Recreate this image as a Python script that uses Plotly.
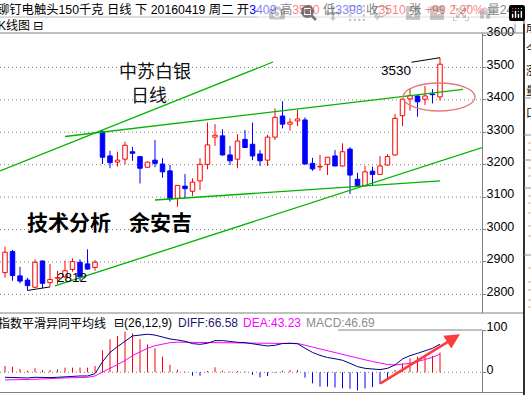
import plotly.graph_objects as go

# ---------------- data ----------------
opens = [2867, 2932, 2857, 2844, 2822, 2903, 2836, 2850, 2854, 2877, 2899, 2894, 2883,
         3302, 3227, 3208, 3217, 3240, 3225, 3192, 3214, 3202, 3181, 3096, 3134, 3118,
         3150, 3201, 3285, 3289, 3230, 3217, 3278, 3263, 3233, 3214, 3285, 3350, 3325,
         3335, 3338, 3204, 3193, 3201, 3227, 3196, 3248, 3155, 3135, 3180, 3170, 3199,
         3230, 3351, 3403, 3412, 3402, 3418, 3409]
highs = [2947, 2937, 2885, 2851, 2908, 2905, 2894, 2873, 2904, 2911, 2908, 2939, 2906,
         3307, 3243, 3240, 3271, 3255, 3227, 3210, 3276, 3220, 3199, 3136, 3171, 3158,
         3220, 3330, 3325, 3309, 3258, 3294, 3307, 3330, 3245, 3292, 3374, 3396, 3343,
         3369, 3346, 3221, 3230, 3224, 3245, 3266, 3254, 3175, 3196, 3194, 3227, 3232,
         3356, 3404, 3436, 3413, 3443, 3433, 3530]
lows = [2851, 2842, 2834, 2812, 2819, 2819, 2824, 2832, 2850, 2870, 2842, 2876, 2873,
        3202, 3189, 3194, 3201, 3212, 3142, 3190, 3192, 3160, 3086, 3070, 3096, 3104,
        3122, 3186, 3258, 3228, 3199, 3189, 3251, 3214, 3196, 3196, 3276, 3312, 3305,
        3319, 3202, 3181, 3181, 3168, 3195, 3194, 3110, 3132, 3134, 3137, 3169, 3197,
        3228, 3319, 3367, 3348, 3384, 3389, 3398]
closes = [2930, 2858, 2841, 2827, 2899, 2834, 2846, 2852, 2873, 2901, 2854, 2878, 2899,
          3223, 3206, 3214, 3260, 3235, 3189, 3208, 3204, 3178, 3094, 3136, 3126, 3146,
          3201, 3261, 3291, 3230, 3212, 3273, 3253, 3227, 3212, 3285, 3346, 3325, 3331,
          3341, 3202, 3187, 3195, 3223, 3196, 3240, 3168, 3135, 3178, 3170, 3196, 3225,
          3343, 3402, 3413, 3394, 3412, 3416, 3510]

diff_vals = [-11.8, -12.6, -13.4, -13.4, -11.8, -12.6, -12.6, -11.8, -10.2, -9.5, -8.7, -8.7,
             -3.2, 25, 47, 60.7, 74, 86, 88, 90, 88, 83.5, 78.8, 76.4, 73.3, 67.8, 66.2,
             68.6, 74.9, 74.9, 72.4, 70.9, 70.1, 67, 63.8, 62.2, 63.8, 68, 68.6, 67.5, 57,
             47, 40, 35, 32, 28.4, 21.3, 13.4, 9.4, 7, 6.3, 9.4, 17.3, 31.5, 39.4, 44.9,
             50.4, 56.7, 66.58]
dea_vals = [-18, -18, -18, -17.3, -16.5, -15.8, -15.8, -14.2, -13.4, -12.6, -11.8, -11.8,
            -8.7, 0, 9.5, 17.3, 27.6, 39.4, 48.9, 56.7, 63, 67, 70, 71.2, 70.9, 70.9, 70.1,
            70.1, 70.9, 70.9, 70.1, 70.1, 69.3, 68.6, 67.8, 67.8, 67.8, 68.2, 68.5, 68.3,
            64, 59.5, 55, 51, 47, 42.5, 38.5, 34, 29.5, 25.5, 21.5, 18.5, 17.3, 18.9, 21.3,
            25.2, 30.7, 35.4, 43.23]
macd_vals = [15, 13.4, 7.9, 3.9, 9.5, 5.5, 5.5, 7, 11, 11, 11, 11, 15, 52, 78, 86, 96, 92,
             78, 66, 57, 37, 18, 6, 2, -7.9, -7.9, 3, 11.8, 4, 2, 3, 2, -6, -12, -9, -2, 4,
             5.5, 5.5, -12.6, -26, -34, -34, -36, -38, -39, -43, -38, -35, -28, -18, 6, 21,
             33, 37, 39, 39, 46.69]

price_ticks = [2800, 2900, 3000, 3100, 3200, 3300, 3400, 3500, 3600]
grid_levels = [2800, 2900, 3000, 3100, 3200, 3300, 3400, 3500]
macd_ticks = [0, 100]

# hand-drawn analysis lines (candle index, price)
trend_lines = [((-0.667, 3180.5), (35.73, 3516.7)),
               ((8.0, 3287.0), (61.07, 3432.0)),
               ((20.0, 3091.0), (58.0, 3150.0)),
               ((6.67, 2826.0), (63.6, 3253.0))]
ellipse_box = (53.07, 62.67, 3365.6, 3452.0)
high_leader = [(54.2, 3516.0), (58.0, 3530.0)]
low_leader = [(3.0, 2812.0), (6.0, 2823.0)]
arrow_tail = (49.87, -28.4)
arrow_tip = (60.67, 89.8)

# ---------------- layout helpers ----------------
W, H = 531, 395
PW = 482  # plot width in px


def fx(px):
    return px / PW


def fy(py):
    return 1 - py / H


RED = '#ff0000'
BLUE = '#0000ff'
GRAY = '#808080'
FONT = 'Liberation Sans, Noto Sans CJK SC, DejaVu Sans, sans-serif'
CJK = 'Noto Sans CJK SC, sans-serif'

n = len(opens)
idx = list(range(n))
up = [i for i in idx if closes[i] >= opens[i]]
dn = [i for i in idx if closes[i] < opens[i]]


def wicks(ids):
    xs, ys = [], []
    for i in ids:
        top = max(opens[i], closes[i])
        bot = min(opens[i], closes[i])
        xs += [i, i, None, i, i, None]
        ys += [highs[i], top, None, bot, lows[i], None]
    return xs, ys


def sticks(ids, vals):
    xs, ys = [], []
    for i in ids:
        xs += [i, i, None]
        ys += [0, vals[i], None]
    return xs, ys


fig = go.Figure()
for ids, col in ((up, RED), (dn, BLUE)):
    wx, wy = wicks(ids)
    fig.add_trace(go.Scatter(x=wx, y=wy, mode='lines', line=dict(color=col, width=1),
                             hoverinfo='skip', showlegend=False))
fig.add_trace(go.Bar(x=up, y=[closes[i] - opens[i] for i in up], base=[opens[i] for i in up],
                     width=0.6, marker=dict(color='white', line=dict(color=RED, width=1)),
                     showlegend=False))
fig.add_trace(go.Bar(x=dn, y=[opens[i] - closes[i] for i in dn], base=[closes[i] for i in dn],
                     width=0.6, marker=dict(color=BLUE, line=dict(color=BLUE, width=1)),
                     showlegend=False))

# MACD histogram (1px sticks) and lines
mp = [i for i in idx if macd_vals[i] >= 0]
mn = [i for i in idx if macd_vals[i] < 0]
for ids, col in ((mp, RED), (mn, BLUE)):
    sx, sy = sticks(ids, macd_vals)
    fig.add_trace(go.Scatter(x=sx, y=sy, mode='lines', xaxis='x2', yaxis='y2',
                             line=dict(color=col, width=1), showlegend=False))
fig.add_trace(go.Scatter(x=idx, y=dea_vals, mode='lines', xaxis='x2', yaxis='y2',
                         line=dict(color='#ff00ff', width=1), showlegend=False))
fig.add_trace(go.Scatter(x=idx, y=diff_vals, mode='lines', xaxis='x2', yaxis='y2',
                         line=dict(color='#000080', width=1), showlegend=False))

# leader lines for high / low
fig.add_trace(go.Scatter(x=[p[0] for p in high_leader], y=[p[1] for p in high_leader],
                         mode='lines', line=dict(color='black', width=1), showlegend=False))
fig.add_trace(go.Scatter(x=[p[0] for p in low_leader], y=[p[1] for p in low_leader],
                         mode='lines', line=dict(color='black', width=1), showlegend=False))

shapes = []
for lv in grid_levels:
    shapes.append(dict(type='line', xref='paper', yref='y', x0=0, x1=1, y0=lv, y1=lv,
                       line=dict(color=GRAY, width=1, dash='1px,3px'), layer='below'))
shapes.append(dict(type='line', xref='paper', yref='y2', x0=0, x1=1, y0=0, y1=0,
                   line=dict(color=GRAY, width=1, dash='1px,3px'), layer='below'))
for (a, b) in trend_lines:
    shapes.append(dict(type='line', xref='x', yref='y', x0=a[0], y0=a[1], x1=b[0], y1=b[1],
                       line=dict(color='#00b400', width=1.3)))
shapes.append(dict(type='circle', xref='x', yref='y', x0=ellipse_box[0], x1=ellipse_box[1],
                   y0=ellipse_box[2], y1=ellipse_box[3],
                   line=dict(color='#e87878', width=1.3)))


def hline(py, x0, x1, color=GRAY, w=1):
    shapes.append(dict(type='line', xref='paper', yref='paper', x0=fx(x0), x1=fx(x1),
                       y0=fy(py), y1=fy(py), line=dict(color=color, width=w)))


def vline(px, y0, y1, color=GRAY, w=1):
    shapes.append(dict(type='line', xref='paper', yref='paper', x0=fx(px), x1=fx(px),
                       y0=fy(y0), y1=fy(y1), line=dict(color=color, width=w)))


hline(17, 0, 515, '#b8b8b8')
hline(33, 0, 524, GRAY)
hline(313, 0, 524, GRAY)
hline(330, 338, 482, GRAY)
hline(392.5, 0, 524, GRAY)
vline(515, 9, 33, '#a0a0a0')
vline(524, 9, 395, '#303030', 2)
for yy in (98, 135, 160, 188, 255):
    hline(yy, 524, 531, '#909090')
for yy in (143, 150, 168, 176, 196, 203, 213, 226, 236, 268, 282, 290, 300, 307):
    hline(yy, 528.5, 530.5, '#e08020')

ann = []


def text(s, x, y, size=12, color='black', family=FONT, xanchor='left', yanchor='middle'):
    ann.append(dict(text=s, xref='paper', yref='paper', x=fx(x), y=fy(y), showarrow=False,
                    xanchor=xanchor, yanchor=yanchor,
                    font=dict(size=size, color=color, family=family)))


B = '#0000ff'
R = '#ff0000'
header = ("铆钉电触头150千克 日线 下 20160419 周二 开<span style='color:%s'>3409</span> "
          "高<span style='color:%s'>3530</span> 低<span style='color:%s'>3398</span> "
          "收<span style='color:%s'>3510</span> 张 <span style='color:%s'>+99 2.90%%</span> 量24"
          % (B, R, B, R, R))
text(header, -5, 9, size=12.3)
text("K线图 ⊟", -4, 26)
text("指数平滑异同平均线", -4, 323)
text("⊟(26,12,9)", 112, 323)
text("DIFF:66.58", 176, 323, color='#1a1a70')
text("DEA:43.23", 241, 323, color='#ff00ff')
text("MACD:46.69", 304, 323, color='#8c8c8c')

text("中苏白银", 155, 70, size=18, family=CJK, xanchor='center', color='#111111')
text("日线", 148.5, 94, size=18, family=CJK, xanchor='center', color='#111111')
text("<b>技术分析</b>", 68.5, 221, size=21, family=CJK, xanchor='center')
text("<b>余安吉</b>", 160.5, 221, size=21, family=CJK, xanchor='center')
text("3530", 396, 71, size=13.5, xanchor='center')
text("2812", 71.5, 277, size=13.5, xanchor='center')

for s, yy in (("成", 27), ("今", 48), ("涨", 70), ("量", 90), ("口", 112)):
    text(s, 524, yy, size=11, family=CJK)

ann.append(dict(x=arrow_tip[0], y=arrow_tip[1], ax=arrow_tail[0], ay=arrow_tail[1],
                xref='x2', yref='y2', axref='x2', ayref='y2', text='', showarrow=True,
                arrowhead=2, arrowsize=1.2, arrowwidth=2.5, arrowcolor='#ff3c3c'))

xr = [-0.667, 63.6]
fig.update_layout(
    width=W, height=H,
    margin=dict(l=0, r=W - PW, t=0, b=0),
    paper_bgcolor='white', plot_bgcolor='white',
    barmode='overlay', showlegend=False,
    font=dict(family=FONT, size=12, color='black'),
    xaxis=dict(domain=[0, 1], range=xr, visible=False, anchor='y'),
    xaxis2=dict(domain=[0, 1], range=xr, visible=False, anchor='y2', matches='x'),
    yaxis=dict(domain=[fy(313), fy(33)], range=[2742.5, 3606.2], side='right',
               showline=True, linecolor=GRAY, linewidth=1, ticks='outside', ticklen=3,
               tickcolor=GRAY, tickvals=price_ticks, showgrid=False, zeroline=False,
               tickfont=dict(size=12.5, color='black', family=FONT), ticklabelshift=-3,
               ticklabelstandoff=-2, automargin=False, anchor='x'),
    yaxis2=dict(domain=[fy(392.3), fy(330)], range=[-47.3, 100], side='right',
                showline=True, linecolor=GRAY, linewidth=1, ticks='outside', ticklen=3,
                tickcolor=GRAY, tickvals=macd_ticks, showgrid=False, zeroline=False,
                tickfont=dict(size=12.5, color='black', family=FONT), ticklabelshift=-3,
                ticklabelstandoff=-2, automargin=False, anchor='x2'),
    shapes=shapes,
    annotations=ann,
)

fig.write_html("out.html",
               post_script="document.body.style.margin='0';document.body.style.overflow='hidden';")
